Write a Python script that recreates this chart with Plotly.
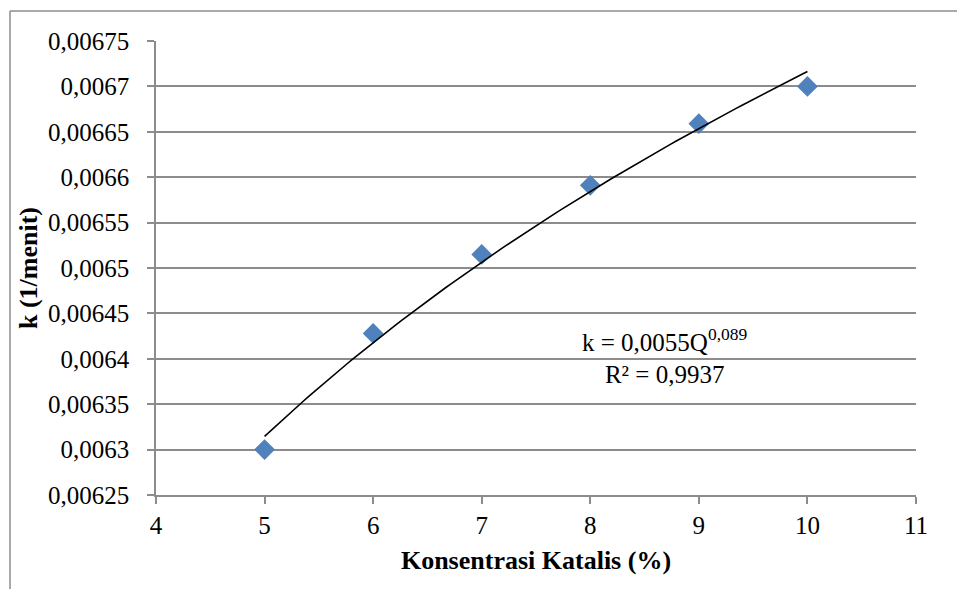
import numpy as np
import plotly.graph_objects as go

# Data
konsentrasi = [5, 6, 7, 8, 9, 10]
k_values = [0.0063, 0.006428, 0.006515, 0.006591, 0.006659, 0.0067]
x_ticks = [4, 5, 6, 7, 8, 9, 10, 11]
y_ticks = [0.00625, 0.0063, 0.00635, 0.0064, 0.00645, 0.0065, 0.00655,
           0.0066, 0.00665, 0.0067, 0.00675]
y_tick_labels = ["0,00625", "0,0063", "0,00635", "0,0064", "0,00645", "0,0065",
                 "0,00655", "0,0066", "0,00665", "0,0067", "0,00675"]
eq_text = "k = 0,0055Q<sup>0,089</sup><br>R² = 0,9937"

# Power trendline fitted from the data (log-log least squares)
lx = np.log(konsentrasi)
ly = np.log(k_values)
b, ln_a = np.polyfit(lx, ly, 1)
xf = np.linspace(min(konsentrasi), max(konsentrasi), 100)
yf = np.exp(ln_a) * xf ** b

FONT = "Liberation Serif, Times New Roman, serif"
GRID = "#8c8c8c"

fig = go.Figure()
fig.add_trace(go.Scatter(
    x=konsentrasi, y=k_values, mode="markers",
    marker=dict(symbol="diamond", size=16, color="#4F81BD"),
    showlegend=False, cliponaxis=False))
fig.add_trace(go.Scatter(
    x=xf, y=yf, mode="lines", line=dict(color="black", width=1.6),
    showlegend=False))

fig.update_layout(
    width=957, height=589,
    margin=dict(l=156, r=41, t=41, b=94),
    paper_bgcolor="white", plot_bgcolor="white",
    font=dict(family=FONT, size=25, color="black"),
    xaxis=dict(
        range=[4, 11], tickvals=x_ticks, ticktext=[str(v) for v in x_ticks],
        showgrid=False, zeroline=False,
        showline=True, linecolor=GRID, linewidth=1.5,
        ticks="outside", ticklen=7, tickcolor=GRID, tickwidth=1.5,
        tickfont=dict(family=FONT, size=25),
        title=dict(text="<b>Konsentrasi Katalis (%)</b>",
                   font=dict(family=FONT, size=26), standoff=13),
    ),
    yaxis=dict(
        range=[0.00625, 0.00675], tickvals=y_ticks, ticktext=y_tick_labels,
        showgrid=True, gridcolor=GRID, gridwidth=1.5, zeroline=False,
        showline=True, linecolor=GRID, linewidth=1.5,
        ticks="outside", ticklen=7, tickcolor=GRID, tickwidth=1.5,
        ticklabelstandoff=13,
        tickfont=dict(family=FONT, size=25),
        title=dict(text="<b>k (1/menit)</b>",
                   font=dict(family=FONT, size=26), standoff=3),
    ),
    annotations=[dict(
        text=eq_text, xref="paper", yref="paper",
        x=(665 - 156) / 760, y=(495 - 356) / 454,
        showarrow=False, align="center", xanchor="center", yanchor="middle",
        font=dict(family=FONT, size=25, color="black"))],
    shapes=[
        dict(type="line", xref="paper", yref="paper",
             x0=(10 - 156) / 760, x1=(960 - 156) / 760,
             y0=(495 - 11) / 454, y1=(495 - 11) / 454,
             line=dict(color=GRID, width=1.5)),
        dict(type="line", xref="paper", yref="paper",
             x0=(10 - 156) / 760, x1=(10 - 156) / 760,
             y0=(495 - 11) / 454, y1=(495 - 595) / 454,
             line=dict(color=GRID, width=1.5)),
    ],
)

fig.write_html("out.html")
